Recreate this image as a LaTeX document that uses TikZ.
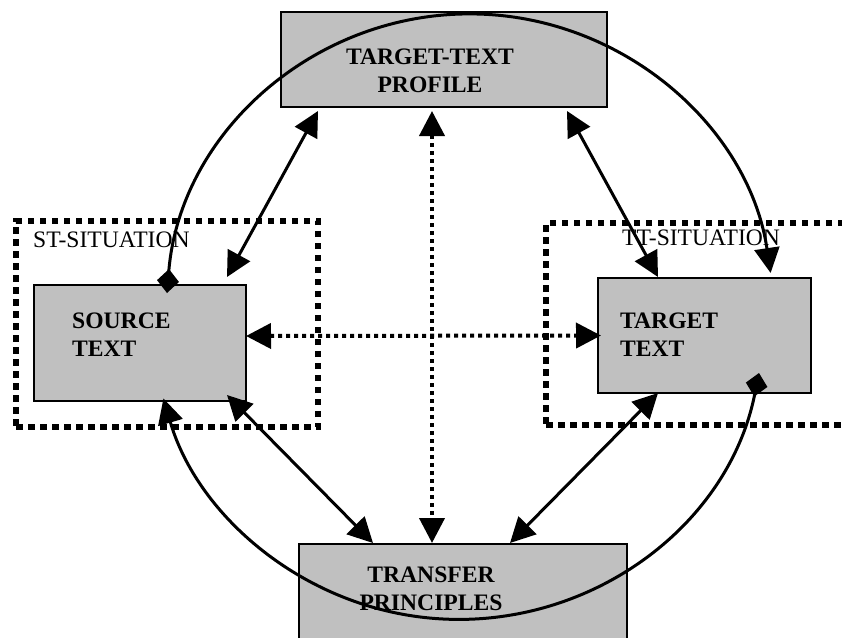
\documentclass[tikz,border=0pt]{standalone}
\usepackage{fontspec}
\setmainfont{Liberation Serif}
\usetikzlibrary{arrows.meta,calc}
\definecolor{boxgray}{RGB}{192,192,192}
\tikzset{
  box/.style={draw, line width=2pt, fill=boxgray, inner sep=0pt, outer sep=0pt},
  frame/.style={draw, line width=6pt, dash pattern=on 6.5pt off 5.5pt, inner sep=0pt, outer sep=0pt},
  caption/.style={inner sep=0pt, font=\fontsize{23.6}{28}\selectfont},
  boxtext/.style={inner sep=0pt, font=\fontsize{23.6}{28}\selectfont\bfseries},
  link/.style={line width=3pt, {Triangle[length=25pt,width=25pt]}-{Triangle[length=25pt,width=25pt]}},
  dotlink/.style={link, line width=4pt, dash pattern=on 4pt off 4pt},
  ring/.style={line width=3pt, {Diamond[length=24pt,width=22pt]}-{Triangle[length=25pt,width=25pt]}}
}
\begin{document}
\begin{tikzpicture}[x=1pt, y=-1pt]
  \clip[use as bounding box] (0,0) rectangle (842,637);
  % situation frames
  \node[frame, minimum width=302pt, minimum height=206pt] (stsit) at (167,324) {};
  \node[frame, minimum width=330pt, minimum height=202pt] (ttsit) at (711,324) {};
  % grey boxes
  \node[box, minimum width=326pt, minimum height=95pt] (ttp) at (444,59.5) {};
  \node[box, minimum width=212pt, minimum height=116pt] (src) at (140,343) {};
  \node[box, minimum width=213pt, minimum height=115pt] (tgt) at (704.5,335.5) {};
  \node[box, minimum width=328pt, minimum height=110pt] (tfp) at (463,599) {};
  % texts
  \node[boxtext, align=center, anchor=north] (ttp-text) at (430,49) {TARGET-TEXT\\PROFILE};
  \node[boxtext, align=left, anchor=north west] (src-text) at (72,313) {SOURCE\\TEXT};
  \node[boxtext, align=left, anchor=north west] (tgt-text) at (620,313) {TARGET\\TEXT};
  \node[boxtext, align=center, anchor=north] (tfp-text) at (431,567) {TRANSFER\\PRINCIPLES};
  \node[caption, anchor=north west] (st-text) at (33,232) {ST-SITUATION};
  \node[caption, anchor=north west] (tt-text) at (622,230) {TT-SITUATION};
  % links between the boxes
  \draw[link] ($(ttp.south west)+(37,4)$) -- ($(src.north east)+(-19,-8)$);
  \draw[link] ($(ttp.south east)+(-40,4)$) -- ($(tgt.north west)+(60,-1)$);
  \draw[link] ($(src.south east)+(-19,-6)$) -- ($(tfp.north west)+(74,-1)$);
  \draw[link] ($(tgt.south west)+(60,0)$) -- ($(tfp.north west)+(211,-1)$);
  \draw[dotlink] ($(src.east)+(0,-7)$) -- ($(tgt.west)+(3,0)$);
  \draw[dotlink] ($(ttp.south)+(-12,4)$) -- ($(tfp.north)+(-31,-1)$);
  % the circle round the boxes
  \draw[ring] ($(src.north)+(27,8)$) arc[start angle=184.7, end angle=351.5, radius=304];
  \draw[ring] ($(tgt.south east)+(-52,-20)$) arc[start angle=11.4, end angle=163.7, radius=307];
\end{tikzpicture}
\end{document}
